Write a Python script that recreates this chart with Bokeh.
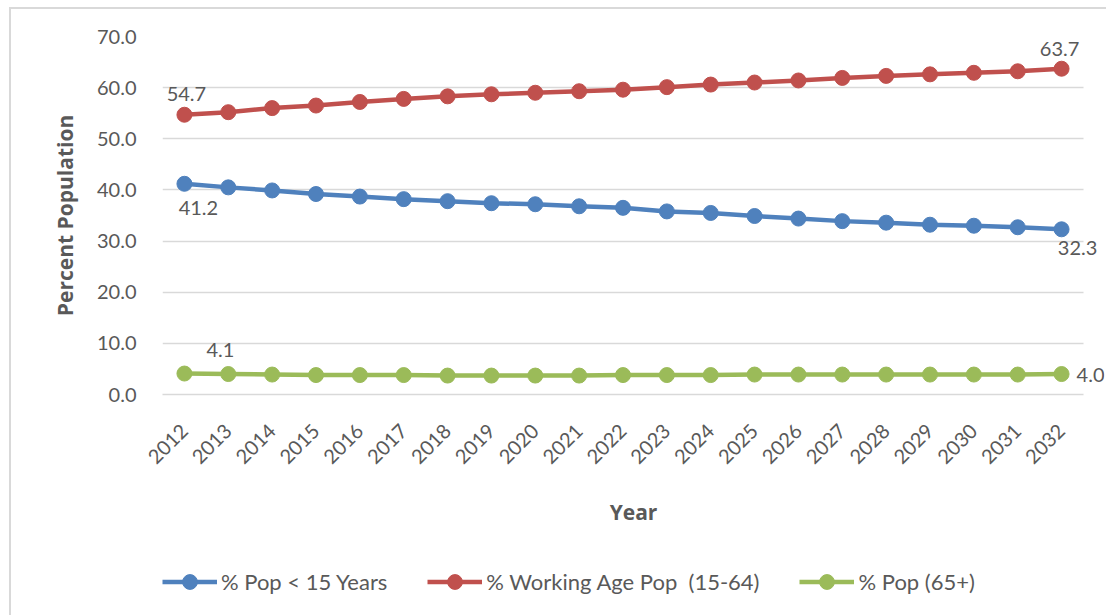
import math
from bokeh.plotting import figure
from bokeh.layouts import column
from bokeh.models import (ColumnDataSource, Range1d, Legend, LegendItem, FixedTicker,
                          PrintfTickFormatter, SingleIntervalTicker, Label)
from bokeh.embed import file_html
from bokeh.resources import INLINE

years = ["2012", "2013", "2014", "2015", "2016", "2017", "2018", "2019", "2020", "2021",
         "2022", "2023", "2024", "2025", "2026", "2027", "2028", "2029", "2030", "2031", "2032"]
pop_under15 = [41.2, 40.5, 39.9, 39.2, 38.7, 38.2, 37.8, 37.4, 37.2, 36.8,
               36.5, 35.8, 35.5, 34.9, 34.4, 33.9, 33.6, 33.2, 33.0, 32.7, 32.3]
pop_working = [54.7, 55.2, 56.0, 56.5, 57.2, 57.8, 58.3, 58.7, 59.0, 59.3,
               59.6, 60.1, 60.6, 61.0, 61.4, 61.9, 62.3, 62.6, 62.9, 63.2, 63.7]
pop_65plus = [4.1, 4.0, 3.9, 3.8, 3.8, 3.8, 3.7, 3.7, 3.7, 3.7,
              3.8, 3.8, 3.8, 3.9, 3.9, 3.9, 3.9, 3.9, 3.9, 3.9, 4.0]
series_names = ["% Pop < 15 Years", "% Working Age Pop  (15-64)", "% Pop (65+)"]
colors = ["#4F81BD", "#C0504D", "#9BBB59"]

FONT = "Lato"
BOLD_FONT = "Open Sans"
GRAY = "#595959"
LINE_W = 4.5
MARKER = 15

xs = [int(y) for y in years]
x_lo, x_hi = xs[0] - 0.5, xs[-1] + 0.5
extra_right = 21 / 43.857          # room beyond the last category for the end labels

p = figure(width=1095, height=535, output_backend="svg", toolbar_location=None,
           x_range=Range1d(x_lo, x_hi + extra_right), y_range=Range1d(0, 70),
           min_border_left=151, min_border_right=2, min_border_top=27, min_border_bottom=150)
p.outline_line_color = None
p.background_fill_color = "white"

sources = []
for vals, name, c in zip([pop_under15, pop_working, pop_65plus], series_names, colors):
    src = ColumnDataSource(dict(x=xs, y=vals))
    sources.append(src)
    p.line("x", "y", source=src, line_color=c, line_width=LINE_W)
    p.scatter("x", "y", source=src, size=MARKER, fill_color=c, line_color=c)

# data labels (first and last point of each series)
def lab(series, idx, dx, dy, align="center"):
    i = idx % len(xs)
    p.add_layout(Label(x=xs[i], y=series[i], text="%.1f" % series[i],
                       x_offset=dx, y_offset=-dy, text_align=align, text_baseline="middle",
                       text_font=FONT, text_font_size="20px", text_color=GRAY))

lab(pop_working, 0, 2, -21)
lab(pop_working, -1, -2, -20)
lab(pop_under15, 0, 14, 24)
lab(pop_under15, -1, 16, 19)
lab(pop_65plus, 0, 36, -24)
lab(pop_65plus, -1, 15, 1, align="left")

p.xgrid.visible = False
p.ygrid.grid_line_color = "#D9D9D9"
p.ygrid.grid_line_width = 1.5
g = p.ygrid[0]
if "cross_bounds" in g.properties():
    g.cross_bounds = (x_lo, x_hi)
p.yaxis.ticker = SingleIntervalTicker(interval=10)
p.yaxis.formatter = PrintfTickFormatter(format="%.1f")
p.xaxis.ticker = FixedTicker(ticks=xs)
p.xaxis.formatter = PrintfTickFormatter(format="%d")
p.xaxis.bounds = (x_lo, x_hi)

for ax in [p.xaxis[0], p.yaxis[0]]:
    ax.major_tick_line_color = None
    ax.minor_tick_line_color = None
    ax.major_label_text_color = GRAY
    ax.major_label_text_font = FONT
    ax.major_label_text_font_size = "20px"
    ax.axis_label_text_color = GRAY
    ax.axis_label_text_font = BOLD_FONT
    ax.axis_label_text_font_style = "bold"
    ax.axis_label_text_font_size = "21px"

p.yaxis.axis_line_color = None
p.yaxis.major_label_standoff = 20
p.yaxis.axis_label = "Percent Population"
p.yaxis.axis_label_standoff = 15

p.xaxis.axis_line_color = "#D9D9D9"
p.xaxis.axis_line_width = 1.5
p.xaxis.major_label_orientation = math.pi / 4
p.xaxis.major_label_standoff = 27
p.xaxis.axis_label = "Year"
p.xaxis.axis_label_standoff = 25

# legend strip below the chart (same sources, drawn out of view so only the legend shows)
lg = figure(width=1095, height=71, output_backend="svg", toolbar_location=None,
            x_range=p.x_range, y_range=Range1d(-20, -10),
            min_border_left=0, min_border_right=0, min_border_top=0, min_border_bottom=0)
lg.axis.visible = False
lg.grid.visible = False
lg.outline_line_color = None
items = []
for src, name, c in zip(sources, series_names, colors):
    r1 = lg.line("x", "y", source=src, line_color=c, line_width=LINE_W)
    r2 = lg.scatter("x", "y", source=src, size=MARKER, fill_color=c, line_color=c)
    items.append(LegendItem(label=name, renderers=[r1, r2]))
legend = Legend(items=items, orientation="horizontal", location=(0, 15),
                glyph_width=55, glyph_height=37, label_standoff=4, spacing=40,
                padding=0, margin=0, border_line_color=None, background_fill_alpha=0,
                label_text_font=FONT, label_text_font_size="22px", label_text_color=GRAY)
lg.add_layout(legend)

page = column(p, lg, spacing=0,
              styles={"position": "relative", "left": "9px", "top": "7px",
                      "border-left": "2px solid #D9D9D9", "border-top": "2px solid #D9D9D9"})

open("out.html", "w").write(file_html(page, INLINE))
